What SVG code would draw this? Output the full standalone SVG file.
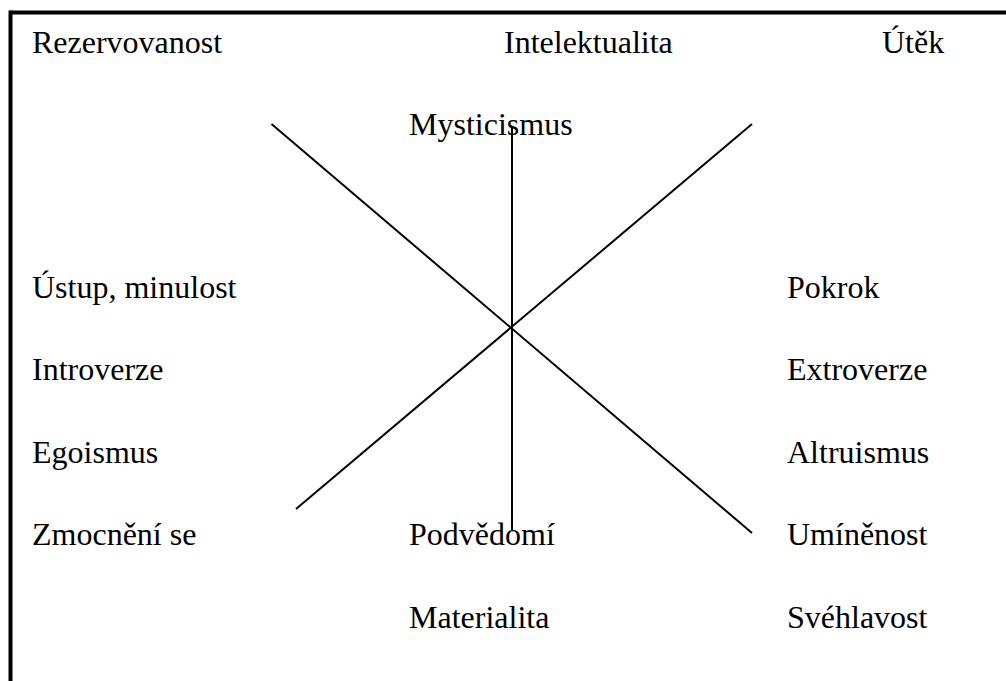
<svg xmlns="http://www.w3.org/2000/svg" width="1006" height="681" viewBox="0 0 1006 681">
<style>
text{font-family:"Liberation Serif","Times New Roman",serif;font-size:32px;fill:#000}
.frame{stroke:#000;stroke-width:4;fill:none}
.ln{stroke:#000;stroke-width:2;fill:none}
</style>
<rect width="1006" height="681" fill="#fff"/>
<g id="frame">
<line class="frame" x1="10.5" y1="12.5" x2="1006" y2="12.5"/>
<line class="frame" x1="10.5" y1="10.5" x2="10.5" y2="681"/>
</g>
<g id="connectors">
<line class="ln" x1="271.5" y1="124" x2="752" y2="533"/>
<line class="ln" x1="752" y1="124" x2="296" y2="509"/>
<line class="ln" x1="512" y1="126" x2="512" y2="530"/>
</g>
<g id="n-rezervovanost"><text x="32" y="53">Rezervovanost</text></g>
<g id="n-intelektualita"><text x="504" y="53">Intelektualita</text></g>
<g id="n-utek"><text x="882" y="53">Útěk</text></g>
<g id="n-mysticismus"><text x="409" y="135">Mysticismus</text></g>
<g id="n-ustup"><text x="32" y="298">Ústup, minulost</text></g>
<g id="n-introverze"><text x="32" y="380">Introverze</text></g>
<g id="n-egoismus"><text x="32" y="463">Egoismus</text></g>
<g id="n-zmocneni"><text x="32" y="545">Zmocnění se</text></g>
<g id="n-pokrok"><text x="787" y="298">Pokrok</text></g>
<g id="n-extroverze"><text x="787" y="380">Extroverze</text></g>
<g id="n-altruismus"><text x="787" y="463">Altruismus</text></g>
<g id="n-uminenost"><text x="787" y="545">Umíněnost</text></g>
<g id="n-podvedomi"><text x="409" y="545">Podvědomí</text></g>
<g id="n-materialita"><text x="409" y="628">Materialita</text></g>
<g id="n-svehlavost"><text x="787" y="628">Svéhlavost</text></g>
</svg>
